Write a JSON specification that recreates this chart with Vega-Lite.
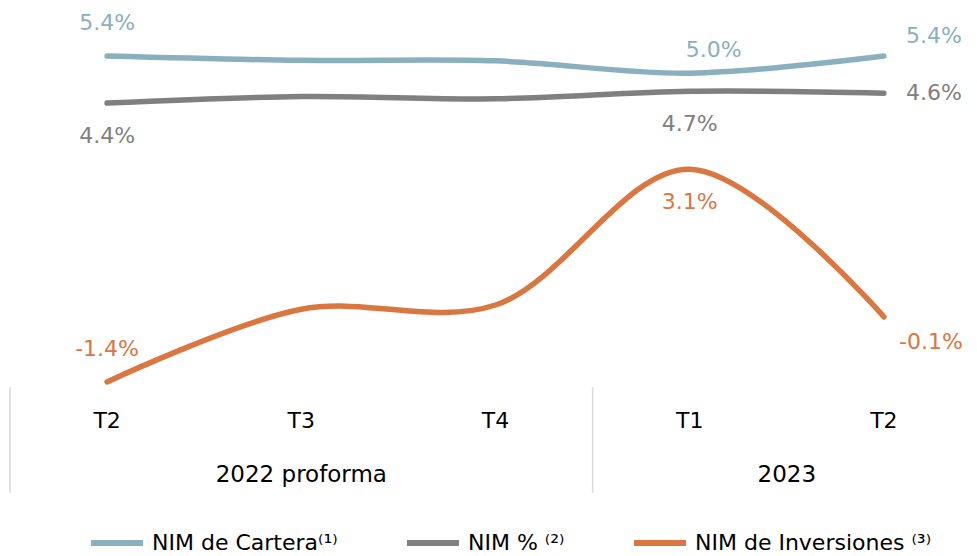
{
  "$schema": "https://vega.github.io/schema/vega-lite/v6.json",
  "width": 971,
  "height": 493,
  "autosize": {"type": "none"},
  "padding": {"left": 10, "top": 0, "right": 0, "bottom": 63},
  "config": {"view": {"stroke": null}, "font": "DejaVu Sans"},
  "datasets": {
    "nim": [
      {"q": "2022-T2", "s": "NIM de Cartera", "v": 5.43, "label": "5.4%"},
      {"q": "2022-T3", "s": "NIM de Cartera", "v": 5.34},
      {"q": "2022-T4", "s": "NIM de Cartera", "v": 5.33},
      {"q": "2023-T1", "s": "NIM de Cartera", "v": 5.07, "label": "5.0%"},
      {"q": "2023-T2", "s": "NIM de Cartera", "v": 5.43, "label": "5.4%"},
      {"q": "2022-T2", "s": "NIM %", "v": 4.44, "label": "4.4%"},
      {"q": "2022-T3", "s": "NIM %", "v": 4.58},
      {"q": "2022-T4", "s": "NIM %", "v": 4.53},
      {"q": "2023-T1", "s": "NIM %", "v": 4.69, "label": "4.7%"},
      {"q": "2023-T2", "s": "NIM %", "v": 4.65, "label": "4.6%"},
      {"q": "2022-T2", "s": "NIM de Inversiones", "v": -1.43, "label": "-1.4%"},
      {"q": "2022-T3", "s": "NIM de Inversiones", "v": 0.1},
      {"q": "2022-T4", "s": "NIM de Inversiones", "v": 0.19},
      {"q": "2023-T1", "s": "NIM de Inversiones", "v": 3.05, "label": "3.1%"},
      {"q": "2023-T2", "s": "NIM de Inversiones", "v": -0.06, "label": "-0.1%"}
    ],
    "quarters": [
      {"q": "2022-T2", "t": "T2"},
      {"q": "2022-T3", "t": "T3"},
      {"q": "2022-T4", "t": "T4"},
      {"q": "2023-T1", "t": "T1"},
      {"q": "2023-T2", "t": "T2"}
    ],
    "bounds": [{"q": "2022-T2"}, {"q": "2023-T1"}]
  },
  "layer": [
    {
      "mark": {"type": "rule", "color": "#d9d9d9", "strokeWidth": 2},
      "encoding": {"y": {"datum": 0, "type": "quantitative", "scale": {"domain": [-3.768, 6.611], "nice": false, "zero": false}, "axis": null}}
    },
    {
      "data": {"name": "bounds"},
      "mark": {"type": "rule", "color": "#d9d9d9", "strokeWidth": 1.5},
      "encoding": {
        "x": {"field": "q", "type": "nominal", "bandPosition": 0, "axis": null, "scale": {"domain": ["2022-T2", "2022-T3", "2022-T4", "2023-T1", "2023-T2"]}},
        "y": {"datum": -1.537, "type": "quantitative"},
        "y2": {"datum": -3.768}
      }
    },
    {
      "data": {"name": "quarters"},
      "mark": {"type": "text", "fontSize": 22, "color": "#000000", "baseline": "middle", "align": "center"},
      "encoding": {
        "x": {"field": "q", "type": "nominal", "bandPosition": 0.5, "axis": null},
        "y": {"datum": -2.253, "type": "quantitative"},
        "text": {"field": "t"}
      }
    },
    {
      "data": {"values": [{"q": "2022-T3", "g": "2022 proforma"}]},
      "mark": {"type": "text", "fontSize": 23, "color": "#000000", "baseline": "middle", "align": "center"},
      "encoding": {
        "x": {"field": "q", "type": "nominal", "bandPosition": 0.5, "axis": null},
        "y": {"datum": -3.389, "type": "quantitative"},
        "text": {"field": "g"}
      }
    },
    {
      "data": {"values": [{"q": "2023-T1", "g": "2023"}]},
      "mark": {"type": "text", "fontSize": 23, "color": "#000000", "baseline": "middle", "align": "center"},
      "encoding": {
        "x": {"field": "q", "type": "nominal", "bandPosition": 1, "axis": null},
        "y": {"datum": -3.389, "type": "quantitative"},
        "text": {"field": "g"}
      }
    },
    {
      "data": {"name": "nim"},
      "layer": [
        {
          "mark": {"type": "line", "interpolate": "catmull-rom", "strokeWidth": 5.5, "strokeCap": "round"},
          "encoding": {
            "x": {"field": "q", "type": "nominal", "bandPosition": 0.5, "axis": null},
            "y": {"field": "v", "type": "quantitative"},
            "color": {
              "field": "s", "type": "nominal",
              "scale": {"domain": ["NIM de Cartera", "NIM %", "NIM de Inversiones"], "range": ["#8AAFBF", "#808080", "#DA763F"]},
              "legend": {
                "orient": "none", "legendX": 78, "legendY": 514, "direction": "horizontal", "title": null,
                "symbolType": "stroke", "symbolSize": 2704, "symbolStrokeWidth": 6,
                "labelFontSize": 22, "labelColor": "#000000", "labelFont": "DejaVu Sans", "labelOffset": 6,
                "columnPadding": 57, "padding": 0, "labelLimit": 400,
                "labelExpr": "datum.label == 'NIM de Cartera' ? 'NIM de Cartera⁽¹⁾' : datum.label == 'NIM %' ? 'NIM % ⁽²⁾' : 'NIM de Inversiones ⁽³⁾'"
              }
            }
          }
        },
        {
          "transform": [{"filter": "isValid(datum.label) && datum.q == '2022-T2' && datum.s != 'NIM %'"}],
          "mark": {"type": "text", "fontSize": 22, "dy": -33, "align": "center", "baseline": "middle"},
          "encoding": {
            "x": {"field": "q", "type": "nominal", "bandPosition": 0.5, "axis": null},
            "y": {"field": "v", "type": "quantitative"},
            "text": {"field": "label"},
            "fill": {"field": "s", "type": "nominal", "scale": {"domain": ["NIM de Cartera", "NIM %", "NIM de Inversiones"], "range": ["#8AAFBF", "#808080", "#DA763F"]}, "legend": null}
          }
        },
        {
          "transform": [{"filter": "isValid(datum.label) && ((datum.s == 'NIM %' && datum.q != '2023-T2') || (datum.s == 'NIM de Inversiones' && datum.q == '2023-T1'))"}],
          "mark": {"type": "text", "fontSize": 22, "dy": 33, "align": "center", "baseline": "middle"},
          "encoding": {
            "x": {"field": "q", "type": "nominal", "bandPosition": 0.5, "axis": null},
            "y": {"field": "v", "type": "quantitative"},
            "text": {"field": "label"},
            "fill": {"field": "s", "type": "nominal", "scale": {"domain": ["NIM de Cartera", "NIM %", "NIM de Inversiones"], "range": ["#8AAFBF", "#808080", "#DA763F"]}, "legend": null}
          }
        },
        {
          "transform": [{"filter": "datum.s == 'NIM de Cartera' && datum.q == '2023-T1'"}],
          "mark": {"type": "text", "fontSize": 22, "dx": 24, "dy": -23, "align": "center", "baseline": "middle"},
          "encoding": {
            "x": {"field": "q", "type": "nominal", "bandPosition": 0.5, "axis": null},
            "y": {"field": "v", "type": "quantitative"},
            "text": {"field": "label"},
            "fill": {"field": "s", "type": "nominal", "scale": {"domain": ["NIM de Cartera", "NIM %", "NIM de Inversiones"], "range": ["#8AAFBF", "#808080", "#DA763F"]}, "legend": null}
          }
        },
        {
          "transform": [{"filter": "datum.s == 'NIM de Cartera' && datum.q == '2023-T2'"}],
          "mark": {"type": "text", "fontSize": 22, "dx": 50, "dy": -20, "align": "center", "baseline": "middle"},
          "encoding": {
            "x": {"field": "q", "type": "nominal", "bandPosition": 0.5, "axis": null},
            "y": {"field": "v", "type": "quantitative"},
            "text": {"field": "label"},
            "fill": {"field": "s", "type": "nominal", "scale": {"domain": ["NIM de Cartera", "NIM %", "NIM de Inversiones"], "range": ["#8AAFBF", "#808080", "#DA763F"]}, "legend": null}
          }
        },
        {
          "transform": [{"filter": "datum.s == 'NIM %' && datum.q == '2023-T2'"}],
          "mark": {"type": "text", "fontSize": 22, "dx": 50, "dy": 0, "align": "center", "baseline": "middle"},
          "encoding": {
            "x": {"field": "q", "type": "nominal", "bandPosition": 0.5, "axis": null},
            "y": {"field": "v", "type": "quantitative"},
            "text": {"field": "label"},
            "fill": {"field": "s", "type": "nominal", "scale": {"domain": ["NIM de Cartera", "NIM %", "NIM de Inversiones"], "range": ["#8AAFBF", "#808080", "#DA763F"]}, "legend": null}
          }
        },
        {
          "transform": [{"filter": "datum.s == 'NIM de Inversiones' && datum.q == '2023-T2'"}],
          "mark": {"type": "text", "fontSize": 22, "dx": 47, "dy": 25, "align": "center", "baseline": "middle"},
          "encoding": {
            "x": {"field": "q", "type": "nominal", "bandPosition": 0.5, "axis": null},
            "y": {"field": "v", "type": "quantitative"},
            "text": {"field": "label"},
            "fill": {"field": "s", "type": "nominal", "scale": {"domain": ["NIM de Cartera", "NIM %", "NIM de Inversiones"], "range": ["#8AAFBF", "#808080", "#DA763F"]}, "legend": null}
          }
        }
      ]
    }
  ]
}
